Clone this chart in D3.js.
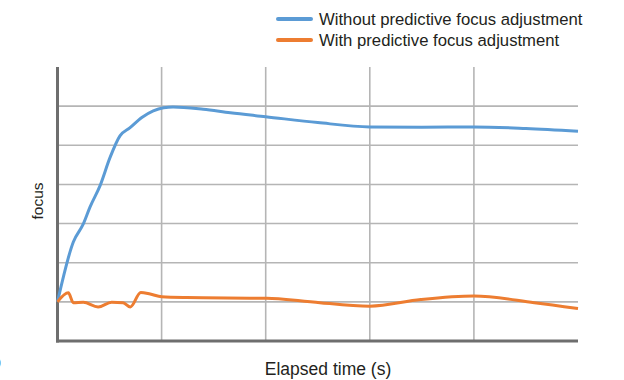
<!DOCTYPE html>
<html><head><meta charset="utf-8">
<script src="https://cdn.jsdelivr.net/npm/d3@7"></script>
<style>body{margin:0;background:#fff}svg{display:block}text{font-family:"Liberation Sans",Arial,sans-serif;fill:#231f20}</style>
</head><body><svg id="c" width="624" height="380"></svg>
<script>
const seriesNames = ["Without predictive focus adjustment","With predictive focus adjustment"];
const colors = ["#5b9bd5","#ed7d31"];
const xTicks = [1,2,3,4];
const yTicks = [1,2,3,4,5,6];
const withoutX = [0,0.152,0.248,0.312,0.409,0.505,0.6,0.697,0.81,0.92,1.02,1.11,1.4,1.66,2.0,2.5,3.0,3.5,4.0,4.5,5.0];
const withoutY = [1,2.53,2.99,3.42,3.97,4.69,5.24,5.45,5.71,5.88,5.96,5.98,5.92,5.83,5.73,5.58,5.47,5.46,5.47,5.43,5.36];
const withX = [0,0.104,0.152,0.248,0.39,0.52,0.63,0.70,0.80,0.89,1.0,1.24,2.01,2.33,2.52,3.0,3.49,4.0,4.58,5.0];
const withY = [1,1.23,0.98,0.99,0.87,0.99,0.98,0.87,1.24,1.2,1.13,1.11,1.09,1.03,0.98,0.89,1.06,1.15,0.98,0.83];

const svg = d3.select("#c");
const x = d3.scaleLinear().domain([0,5]).range([57.5,578]);
const y = d3.scaleLinear().domain([0,7]).range([341,67]);

// grid
svg.append("g").selectAll("line").data(xTicks).join("line")
  .attr("x1",d=>x(d)).attr("x2",d=>x(d)).attr("y1",y(7)).attr("y2",y(0))
  .attr("stroke","#b5b5b5").attr("stroke-width",1.6);
svg.append("g").selectAll("line").data(yTicks).join("line")
  .attr("x1",x(0)).attr("x2",x(5)).attr("y1",d=>y(d)).attr("y2",d=>y(d))
  .attr("stroke","#b5b5b5").attr("stroke-width",1.6);

// axes
svg.append("line").attr("x1",x(0)).attr("x2",x(0)).attr("y1",y(7)).attr("y2",y(0)+1.5)
  .attr("stroke","#6e6e6e").attr("stroke-width",3);
svg.append("line").attr("x1",x(0)-1.5).attr("x2",x(5)).attr("y1",y(0)).attr("y2",y(0))
  .attr("stroke","#6e6e6e").attr("stroke-width",3);

const line = d3.line().x(d=>x(d[0])).y(d=>y(d[1])).curve(d3.curveMonotoneX);
const data = [d3.zip(withoutX,withoutY), d3.zip(withX,withY)];
svg.append("g").selectAll("path").data(data).join("path")
  .attr("d",line).attr("fill","none").attr("stroke",(d,i)=>colors[i])
  .attr("stroke-width",3).attr("stroke-linejoin","round");

// legend
const lg = svg.append("g");
seriesNames.forEach((n,i)=>{
  const yy = 19 + i*21;
  lg.append("line").attr("x1",278).attr("x2",311).attr("y1",yy).attr("y2",yy)
    .attr("stroke",colors[i]).attr("stroke-width",4).attr("stroke-linecap","round");
  lg.append("text").attr("x",319).attr("y",yy+6).attr("font-size",16.7).text(n);
});

svg.append("text").attr("transform","translate(43,201) rotate(-90)")
  .attr("text-anchor","middle").attr("font-size",15.5).text("focus");
svg.append("text").attr("x",328).attr("y",375).attr("text-anchor","middle")
  .attr("font-size",17.5).text("Elapsed time (s)");
svg.append("text").attr("x",-7).attr("y",368).attr("font-size",14).text("0");
</script></body></html>
